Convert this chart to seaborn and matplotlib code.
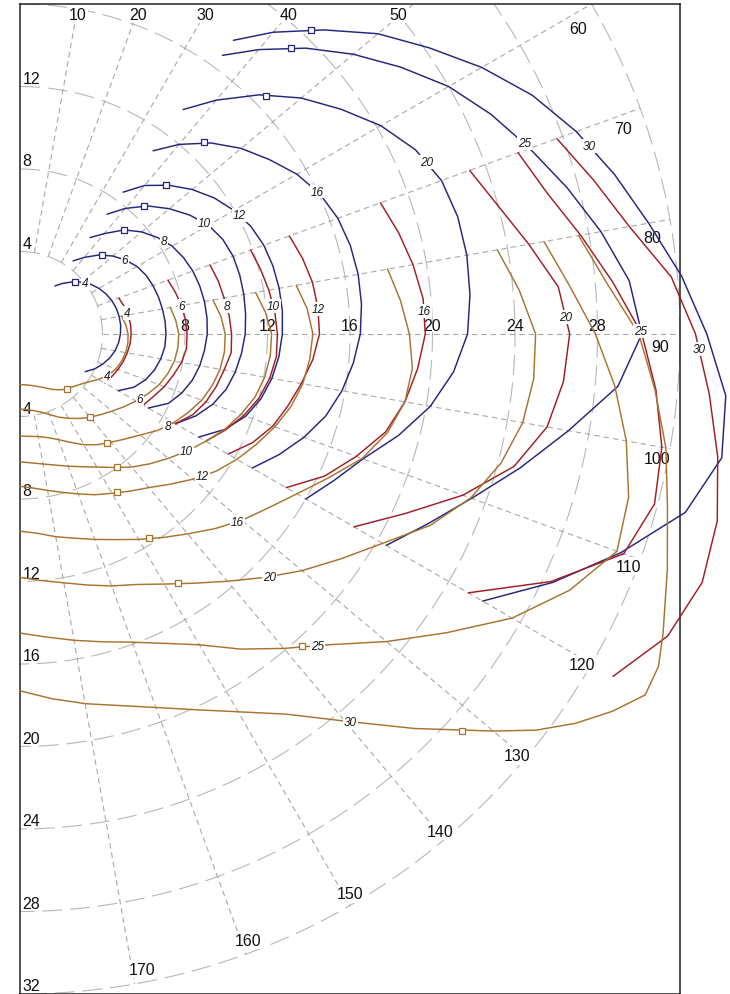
import numpy as np
import pandas as pd
import matplotlib
matplotlib.use("Agg")
import matplotlib.pyplot as plt
import seaborn as sns

# ---------------- data (true wind angle in degrees, boat speed in knots) ----------------
tws = [4, 6, 8, 10, 12, 16, 20, 25, 30]

# upwind sail (blue)
jib_angles = [36, 40, 45, 50, 55, 60, 65, 70, 75, 80, 85, 90, 95, 100, 105, 110, 115, 120]
jib_4 = [2.88, 3.20, 3.57, 3.92, 4.20, 4.42, 4.60, 4.74, 4.83, 4.88, 4.90, 4.87, 4.80, 4.68, 4.50, 4.27, 4.00, 3.65]
jib_6 = [4.38, 4.85, 5.42, 5.88, 6.25, 6.55, 6.74, 6.86, 6.95, 7.01, 7.06, 7.08, 7.05, 6.93, 6.75, 6.48, 6.10, 5.50]
jib_8 = [5.78, 6.35, 7.14, 7.70, 8.15, 8.52, 8.75, 8.92, 9.02, 9.08, 9.10, 9.08, 8.98, 8.85, 8.65, 8.35, 7.95, 7.18]
jib_10 = [7.18, 7.95, 8.78, 9.45, 10.05, 10.55, 10.85, 11.00, 11.03, 11.02, 10.98, 10.92, 10.78, 10.60, 10.35, 9.95, 9.40, 8.70]
jib_12 = [8.50, 9.40, 10.20, 10.90, 11.50, 11.98, 12.35, 12.58, 12.70, 12.76, 12.77, 12.72, 12.60, 12.40, 12.10, 11.65, 10.95, 10.00]
jib_16 = [10.98, 12.00, 13.10, 14.00, 14.75, 15.50, 16.05, 16.40, 16.58, 16.65, 16.62, 16.50, 16.22, 15.85, 15.35, 14.65, 13.85, 13.00]
jib_20 = [13.45, 14.80, 16.40, 17.80, 19.00, 20.20, 21.15, 21.75, 21.97, 22.00, 21.90, 21.70, 21.10, 20.20, 19.00, 17.70, 16.80, 16.00]
jib_25 = [16.70, 18.00, 19.60, 21.10, 22.55, 24.00, 25.20, 26.30, 27.45, 28.60, 29.65, 30.15, 29.10, 27.00, 25.10, 23.30, 21.80, 20.50]
jib_30 = [17.60, 19.10, 20.85, 22.65, 24.20, 25.85, 27.40, 28.70, 29.85, 30.95, 32.20, 33.30, 34.35, 34.55, 33.40, 31.00, 28.50, 25.90]
jib_speeds = [jib_4, jib_6, jib_8, jib_10, jib_12, jib_16, jib_20, jib_25, jib_30]

# reaching sail (red)
reach_angles = [70, 75, 80, 85, 90, 95, 100, 105, 110, 115, 120]
reach_4 = [5.10, 5.22, 5.32, 5.38, 5.39, 5.36, 5.28, 5.18, 5.05, 4.90, 4.75]
reach_6 = [7.63, 7.80, 7.95, 8.05, 8.10, 8.10, 7.95, 7.70, 7.45, 7.15, 6.90]
reach_8 = [9.80, 9.95, 10.05, 10.18, 10.26, 10.28, 10.05, 9.85, 9.60, 9.25, 8.70]
reach_10 = [11.90, 12.08, 12.25, 12.40, 12.48, 12.48, 12.30, 12.00, 11.55, 11.00, 10.40]
reach_12 = [13.90, 14.18, 14.40, 14.50, 14.52, 14.25, 13.85, 13.45, 13.05, 12.45, 11.65]
reach_16 = [18.60, 19.00, 19.35, 19.62, 19.65, 19.35, 18.95, 18.35, 17.35, 16.30, 14.90]
reach_20 = [23.20, 24.00, 25.05, 26.20, 26.65, 26.45, 25.95, 24.80, 22.85, 20.60, 18.70]
reach_25 = [25.70, 26.45, 27.60, 28.85, 30.15, 30.95, 31.60, 31.85, 31.15, 28.40, 25.10]
reach_30 = [27.70, 28.80, 30.00, 31.70, 32.75, 33.55, 34.35, 35.00, 35.20, 34.65, 33.20]
reach_speeds = [reach_4, reach_6, reach_8, reach_10, reach_12, reach_16, reach_20, reach_25, reach_30]

# downwind sail (brown)
run_angles = [80, 85, 90, 95, 100, 105, 110, 115, 120, 125, 130, 135, 140, 145, 150, 155, 160, 165, 170, 175, 180]
run_4 = [5.00, 5.15, 5.24, 5.25, 5.20, 5.10, 4.95, 4.72, 4.40, 4.05, 3.80, 3.62, 3.50, 3.30, 3.10, 2.88, 2.72, 2.60, 2.52, 2.47, 2.45]
run_6 = [7.40, 7.58, 7.70, 7.68, 7.60, 7.42, 7.18, 6.85, 6.50, 6.15, 5.82, 5.53, 5.27, 5.00, 4.72, 4.45, 4.15, 3.92, 3.77, 3.68, 3.64]
run_8 = [9.50, 9.78, 9.95, 9.95, 9.85, 9.65, 9.38, 9.00, 8.60, 8.15, 7.62, 7.20, 6.85, 6.55, 6.20, 5.80, 5.45, 5.20, 5.05, 4.98, 4.95]
run_10 = [11.60, 11.95, 12.20, 12.18, 12.05, 11.80, 11.40, 10.95, 10.40, 9.90, 9.38, 8.90, 8.42, 7.90, 7.45, 7.10, 6.82, 6.58, 6.40, 6.27, 6.20]
run_12 = [13.60, 13.98, 14.20, 14.10, 13.92, 13.60, 13.15, 12.65, 12.15, 11.60, 10.95, 10.30, 9.72, 9.30, 8.92, 8.60, 8.25, 7.95, 7.70, 7.50, 7.38]
run_16 = [18.10, 18.52, 18.88, 19.10, 18.95, 18.45, 17.65, 16.50, 15.50, 14.70, 14.05, 13.35, 12.65, 12.05, 11.50, 11.00, 10.60, 10.25, 9.98, 9.70, 9.56]
run_20 = [23.50, 24.30, 25.00, 25.00, 24.75, 24.15, 23.25, 21.95, 20.30, 19.00, 17.85, 16.70, 15.65, 14.75, 14.00, 13.40, 13.00, 12.60, 12.25, 12.00, 11.80]
run_25 = [25.80, 26.75, 27.90, 28.95, 29.85, 30.55, 30.80, 29.40, 27.55, 25.25, 23.20, 21.30, 19.90, 18.65, 17.40, 16.55, 15.90, 15.45, 15.08, 14.75, 14.50]
# the 30 kn downwind curve is read at a few extra angles around its corner
run_30_angles = [80, 85, 90, 95, 100, 105, 110, 115, 117.5, 120, 122.5, 125, 127.5, 130, 135, 140, 145, 150, 155, 160, 165, 170, 175, 180]
run_30 = [27.50, 28.55, 30.00, 30.90, 31.80, 32.50, 33.40, 34.40, 34.90, 35.00, 34.05, 32.90, 31.55, 29.95, 27.05, 24.50, 22.50, 21.15, 20.10, 19.27, 18.65, 18.20, 17.75, 17.30]
run_speeds = [run_4, run_6, run_8, run_10, run_12, run_16, run_20, run_25, run_30]
run_angle_sets = [run_angles] * 8 + [run_30_angles]

# optimum VMG points (square markers)
jib_vmg_angle = [46.6, 46.1, 45.0, 44.1, 44.4, 43.8, 45.9, 43.5, 43.7]
jib_vmg_speed = [3.67, 5.53, 7.14, 8.65, 10.13, 12.90, 16.60, 19.10, 20.40]
run_vmg_angle = [139.5, 139.9, 141.4, 143.9, 148.5, 147.7, 147.6, 137.9, 131.9]
run_vmg_speed = [3.51, 5.27, 6.77, 7.99, 9.00, 11.70, 14.30, 20.40, 28.80]

# angle at which each curve carries its wind-speed label
jib_label_angle = [52.0, 54.7, 57.1, 58.8, 61.5, 64.4, 67.0, 69.3, 71.7]
reach_label_angle = [78.9, 80.3, 82.4, 83.7, 85.2, 86.7, 88.2, 89.7, 91.3]
run_label_angle = [115.8, 118.4, 121.9, 125.2, 128.0, 130.8, 134.2, 136.4, 139.6]

speed_rings = [4, 8, 12, 16, 20, 24, 28, 32]
upper_ring_labels = [4, 8, 12]
axis_ring_labels = [8, 12, 16, 20, 24, 28]
angle_ticks = [10, 20, 30, 40, 50, 60, 70, 80, 90, 100, 110, 120, 130, 140, 150, 160, 170]

# ---------------- layout / style ----------------
angle_label_xy = [(2.8, 15.5), (5.7, 15.5), (9.0, 15.5), (13.0, 15.5), (18.35, 15.5),
                  (27.05, 14.8), (29.25, 9.95), (30.65, 4.7), (31.05, -0.63), (30.9, -6.05),
                  (29.5, -11.25), (27.25, -16.0), (24.1, -20.45), (20.35, -24.1),
                  (16.0, -27.15), (11.05, -29.4), (5.9, -30.8)]
colors = {"jib": "#24257f", "reach": "#a11d24", "run": "#a9732e"}

sns.set_style("white")
plt.rcParams["font.family"] = ["Liberation Sans", "DejaVu Sans"]


def to_xy(angle_deg, speed):
    a = np.radians(np.asarray(angle_deg, dtype=float))
    s = np.asarray(speed, dtype=float)
    return s * np.sin(a), s * np.cos(a)


families = [("jib", [jib_angles] * 9, jib_speeds, jib_label_angle),
            ("reach", [reach_angles] * 9, reach_speeds, reach_label_angle),
            ("run", run_angle_sets, run_speeds, run_label_angle)]

records = []
for fam, angle_sets, speeds, _ in families:
    for t, angles, sp in zip(tws, angle_sets, speeds):
        xs, ys = to_xy(angles, sp)
        for i, (xv, yv) in enumerate(zip(xs, ys)):
            records.append({"family": fam, "tws": t, "i": i, "x": xv, "y": yv})
curves = pd.DataFrame(records)

vmg_records = []
for fam, ang, spd in [("jib", jib_vmg_angle, jib_vmg_speed), ("run", run_vmg_angle, run_vmg_speed)]:
    xs, ys = to_xy(ang, spd)
    for t, xv, yv in zip(tws, xs, ys):
        vmg_records.append({"family": fam, "tws": t, "x": xv, "y": yv})
vmg = pd.DataFrame(vmg_records)

fig = plt.figure(figsize=(7.3, 9.95), dpi=100)
ax = fig.add_axes([20 / 730, 0.0, 660 / 730, 990 / 995])
ax.set_xlim(0, 32)
ax.set_ylim(-32, 16)

# grid: speed rings (long dashes) and angle rays (short dashes)
th = np.linspace(0, 180, 721)
for r in speed_rings:
    gx, gy = to_xy(th, np.full_like(th, r))
    ax.plot(gx, gy, color="#b8b8b8", lw=0.8, ls=(0, (18, 7)), zorder=1)
for a in angle_ticks:
    gx, gy = to_xy([a, a], [4, 32])
    ax.plot(gx, gy, color="#a9a9a9", lw=0.8, ls=(0, (5, 3.5)), zorder=1)

# curves
for fam, col in colors.items():
    sns.lineplot(data=curves[curves["family"] == fam], x="x", y="y", units="tws",
                 estimator=None, sort=False, color=col, linewidth=1.05,
                 clip_on=False, legend=False, ax=ax, zorder=3)

# VMG markers
for fam in ["jib", "run"]:
    sns.scatterplot(data=vmg[vmg["family"] == fam], x="x", y="y", marker="s", s=24,
                    color="white", edgecolor=colors[fam], linewidth=0.9,
                    clip_on=False, legend=False, ax=ax, zorder=5)

# wind-speed labels on each curve
for fam, angle_sets, speeds, lab_angles in families:
    for t, angles, sp, la in zip(tws, angle_sets, speeds, lab_angles):
        r = np.interp(la, angles, sp)
        lx, ly = to_xy(la, r)
        ax.text(float(lx), float(ly), str(t), fontsize=8.5, style="italic",
                ha="center", va="center", color="#1a1a1a", zorder=6, clip_on=False,
                bbox=dict(boxstyle="square,pad=0.08", fc="white", ec="none"))

# ring labels
for r in upper_ring_labels:
    ax.text(0.12, r + 0.17, str(r), fontsize=11.5, ha="left", va="baseline",
            color="#111111", zorder=2)
for r in speed_rings:
    ax.text(0.12, -r + 0.17, str(r), fontsize=11.5, ha="left", va="baseline",
            color="#111111", zorder=2)
for r in axis_ring_labels:
    ax.text(r, 0.2, str(r), fontsize=11.5, ha="center", va="baseline",
            color="#111111", zorder=2)

# angle labels
for a, (lx, ly) in zip(angle_ticks, angle_label_xy):
    ax.text(lx, ly, str(a), fontsize=11.5, ha="center", va="center", color="#111111",
            zorder=2, bbox=dict(boxstyle="square,pad=0.1", fc="white", ec="none"))

ax.set_xticks([])
ax.set_yticks([])
ax.set_xlabel("")
ax.set_ylabel("")
for sp in ax.spines.values():
    sp.set_color("#222222")
    sp.set_linewidth(1.1)

fig.savefig("out.png", dpi=100)
